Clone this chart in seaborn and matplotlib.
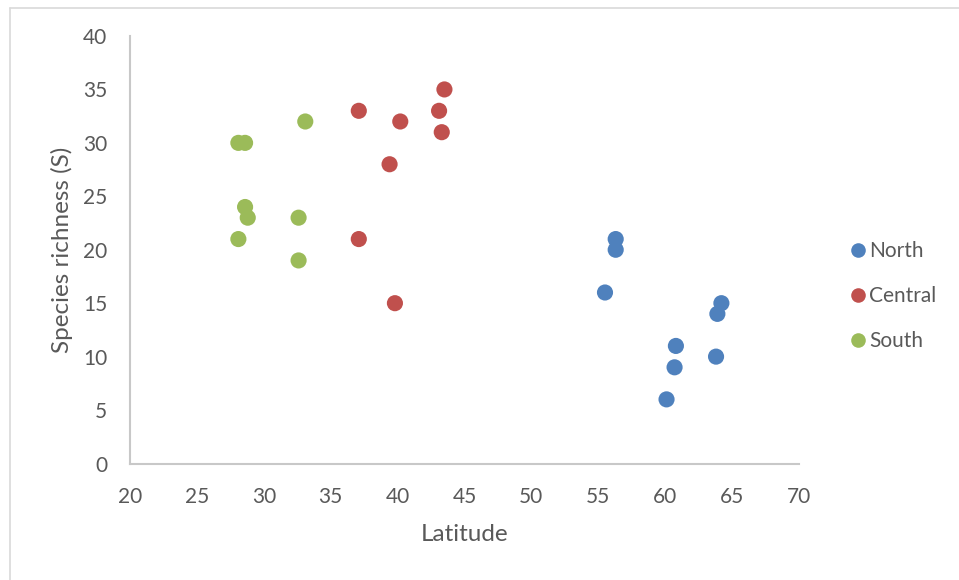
import matplotlib
matplotlib.use("Agg")
import matplotlib.pyplot as plt
import seaborn as sns
import pandas as pd
from matplotlib.lines import Line2D

north_lat = [56.3, 56.3, 55.5, 64.2, 63.9, 60.8, 63.8, 60.7, 60.1]
north_s = [21, 20, 16, 15, 14, 11, 10, 9, 6]
central_lat = [43.5, 37.1, 43.1, 40.2, 43.3, 39.4, 37.1, 39.8]
central_s = [35, 33, 33, 32, 31, 28, 21, 15]
south_lat = [33.1, 28.1, 28.6, 28.6, 28.8, 32.6, 28.1, 32.6]
south_s = [32, 30, 30, 24, 23, 23, 21, 19]
groups = ["North", "Central", "South"]
colors = ["#4F81BD", "#C0504D", "#9BBB59"]

df = pd.DataFrame({
    "Latitude": north_lat + central_lat + south_lat,
    "S": north_s + central_s + south_s,
    "Region": ["North"] * len(north_lat) + ["Central"] * len(central_lat) + ["South"] * len(south_lat),
})

sns.set_style("white")
plt.rcParams["font.family"] = ["Lato", "DejaVu Sans"]
txt = "#595959"

fig = plt.figure(figsize=(9.59, 5.8), dpi=100)
ax = fig.add_axes([130 / 959, 1 - 463.5 / 580, (799 - 130) / 959, (463.5 - 36) / 580])
sns.scatterplot(data=df, x="Latitude", y="S", hue="Region", hue_order=groups,
                palette=colors, s=135, linewidth=0, ax=ax, legend=False, zorder=3)
ax.set_xlim(20, 70)
ax.set_ylim(0, 40)
ax.set_xticks(range(20, 71, 5))
ax.set_yticks(range(0, 41, 5))
ax.tick_params(length=0, labelsize=15, labelcolor=txt)
ax.tick_params(axis="y", pad=16.5)
ax.tick_params(axis="x", pad=17)
for side in ["top", "right"]:
    ax.spines[side].set_visible(False)
for side in ["left", "bottom"]:
    ax.spines[side].set_color("#C8C8C8")
    ax.spines[side].set_linewidth(1.5)
ax.set_xlabel("Latitude", fontsize=17.5, color=txt, labelpad=12.5)
ax.set_ylabel("Species richness (S)", fontsize=17.5, color=txt, labelpad=7)

handles = [Line2D([0], [0], marker="o", linestyle="", markersize=10.5,
                  markerfacecolor=c, markeredgewidth=0) for c in colors]
leg = fig.legend(handles, groups, loc="center left", bbox_to_anchor=(839 / 959, 1 - 296 / 580),
                 frameon=False, fontsize=15, handlelength=0.8, handletextpad=0.15,
                 labelspacing=1.2, labelcolor=txt, borderpad=0)

# chart-area border (top and left visible)
fig.add_artist(Line2D([10 / 959, 10 / 959], [0, 1 - 8 / 580], transform=fig.transFigure,
                      color="#D9D9D9", linewidth=1.2))
fig.add_artist(Line2D([10 / 959, 1], [1 - 8 / 580, 1 - 8 / 580], transform=fig.transFigure,
                      color="#D9D9D9", linewidth=1.2))

fig.savefig("out.png", dpi=100)
